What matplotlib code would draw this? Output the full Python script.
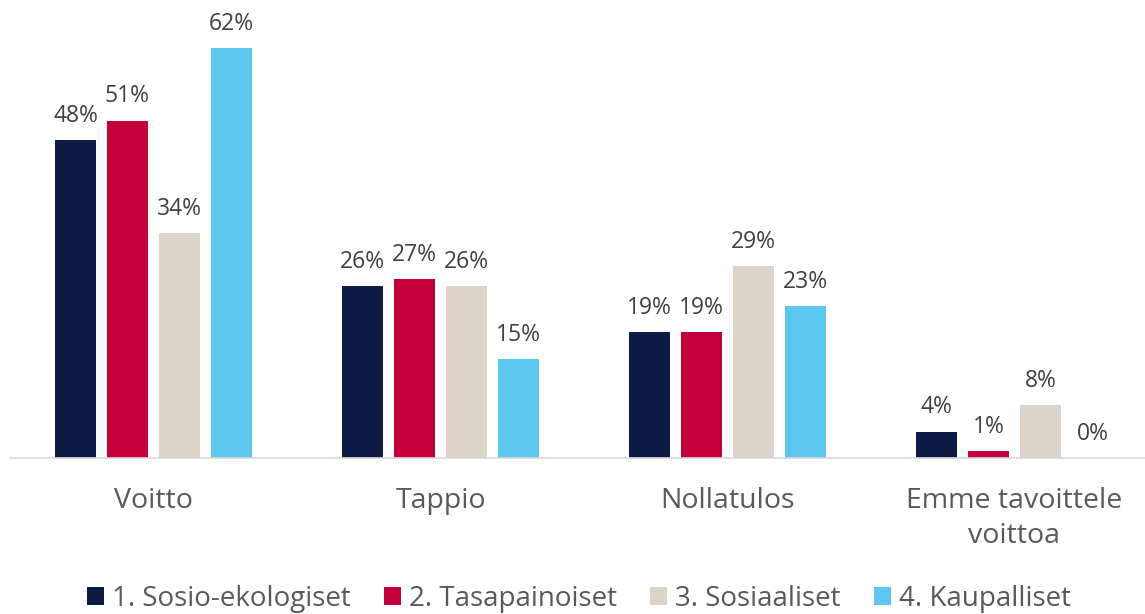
import matplotlib.pyplot as plt
import numpy as np
from matplotlib.patches import Patch

plt.rcParams['font.family'] = ['Open Sans', 'DejaVu Sans']

categories = ['Voitto', 'Tappio', 'Nollatulos', 'Emme tavoittele\nvoittoa']
series_names = ['1. Sosio-ekologiset', '2. Tasapainoiset', '3. Sosiaaliset', '4. Kaupalliset']
values = [
    [48, 26, 19, 4],   # 1. Sosio-ekologiset
    [51, 27, 19, 1],   # 2. Tasapainoiset
    [34, 26, 29, 8],   # 3. Sosiaaliset
    [62, 15, 23, 0],   # 4. Kaupalliset
]
colors = ['#0C1C47', '#C4003A', '#DDD3C9', '#5BC6EE']

W, H = 1145, 614
fig = plt.figure(figsize=(W / 100, H / 100), dpi=100)
# axes placed in pixel terms: baseline at y=458 from top
ax = fig.add_axes([10 / W, 156 / H, 1135 / W, 450 / H])

x = np.arange(len(categories))
stride = 52 / 287
width = 41 / 287
for i, (name, vals) in enumerate(zip(series_names, values)):
    pos = x + (i - 1.5) * stride
    ax.bar(pos, vals, width, color=colors[i], label=name)
    for px, v in zip(pos, vals):
        ax.annotate(f'{v}%', (px, v), xytext=(0, 13), textcoords='offset points',
                    ha='center', va='baseline', fontsize=16.5, color='#404040')

ax.set_xlim(-0.5, -0.5 + 1135 / 287)
ax.set_ylim(0, 68)
ax.set_xticks(x)
ax.set_xticklabels(categories, fontsize=20.5, color='#595959', linespacing=1.33)
ax.tick_params(axis='x', length=0, pad=21)
ax.set_yticks([])
for s in ['top', 'right', 'left']:
    ax.spines[s].set_visible(False)
ax.spines['bottom'].set_color('#D9D9D9')
ax.spines['bottom'].set_linewidth(1.2)

handles = [Patch(facecolor=c, edgecolor='none') for c in colors]
fig.legend(handles, series_names, loc='center', bbox_to_anchor=(579 / W, 1 - 599 / H),
           ncol=4, frameon=False, fontsize=20, labelcolor='#595959',
           handlelength=0.6, handleheight=0.6, handletextpad=0.3, columnspacing=1.2,
           borderpad=0, borderaxespad=0)

fig.savefig('out.png', dpi=100)
